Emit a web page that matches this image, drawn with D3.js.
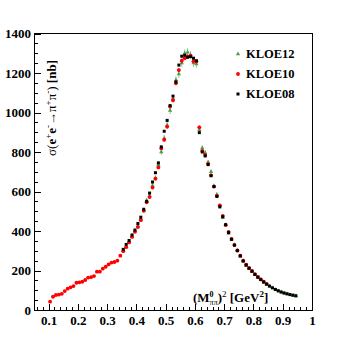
<!DOCTYPE html>
<html>
<head>
<meta charset="utf-8">
<title>KLOE pion cross section</title>
<style>
body {
  margin: 0;
  background: white;
}
svg {
  display: block;
  font-family: "Liberation Serif", "DejaVu Serif", serif;
}
.axis path,
.axis line {
  stroke: black;
  shape-rendering: crispEdges;
}
.axis text {
  font-family: "Liberation Serif", "DejaVu Serif", serif;
  font-size: 13px;
  font-weight: bold;
  fill: black;
}
</style>
<script src="https://cdn.jsdelivr.net/npm/d3@7"></script>
</head>
<body>
<svg width="345" height="345"></svg>
<script>
// bin centres in s = M^2 (GeV^2)
const sKLOE10 = d3.range(75).map(i => +(0.105 + i * 0.01).toFixed(3));
const sKLOE08 = d3.range(60).map(i => +(0.355 + i * 0.01).toFixed(3));
const sKLOE12 = sKLOE08;

// cross sections [nb]
const kloe10 = [42, 67, 76, 78, 82, 96, 108, 115, 121, 138,
  140, 143, 152, 164, 166, 172, 194, 194, 209, 219,
  231, 240, 243, 250, 275, 298, 318, 342, 370, 396,
  420, 455, 502, 545, 572, 620, 665, 722, 818, 862,
  928, 1030, 1062, 1148, 1215, 1262, 1275, 1283, 1288, 1260,
  1258, 925, 805, 785, 740, 682, 625, 578, 530, 476,
  430, 395, 360, 330, 302, 275, 250, 230, 212, 198,
  182, 168, 155, 143, 132];
const kloe10Err = [6, 5, 5, 5, 5, 5, 5, 5, 5, 5,
  5, 5, 5, 5, 5, 5, 5, 5, 5, 5,
  5, 5, 5, 5, 5, 5, 5, 5, 6, 6,
  6, 6, 6, 6, 7, 7, 7, 8, 8, 8,
  8, 9, 9, 9, 10, 10, 10, 10, 10, 10,
  10, 9, 8, 8, 7, 7, 6, 6, 6, 5,
  5, 5, 4, 4, 4, 4, 3, 3, 3, 3,
  3, 3, 3, 3, 3];

const kloe08 = [307, 332, 352, 380, 405, 438, 470, 510, 550, 592,
  648, 695, 745, 826, 905, 960, 1035, 1083, 1155, 1240,
  1285, 1290, 1280, 1283, 1275, 1262, 898, 800, 780, 736,
  680, 625, 575, 522, 472, 432, 392, 358, 328, 300,
  274, 248, 228, 212, 196, 180, 166, 154, 142, 131,
  121, 112, 104, 97, 91, 86, 82, 78, 75, 72];

const kloe12 = [300, 322, 345, 372, 400, 428, 462, 505, 555, 578,
  630, 668, 735, 800, 870, 935, 1010, 1070, 1165, 1195,
  1250, 1300, 1305, 1290, 1250, 1245, 912, 820, 796, 748,
  700, 628, 585, 528, 468, 432, 388, 358, 330, 302,
  272, 248, 224, 210, 195, 180, 166, 153, 141, 130,
  120, 112, 103, 96, 90, 85, 81, 77, 74, 71];
const kloe12Err = [8, 8, 9, 9, 10, 10, 11, 11, 12, 12,
  13, 14, 14, 15, 16, 17, 18, 18, 19, 20,
  20, 20, 20, 20, 19, 19, 15, 13, 13, 12,
  12, 11, 10, 9, 8, 8, 7, 7, 6, 6,
  5, 5, 5, 4, 4, 4, 4, 3, 3, 3,
  3, 3, 3, 2, 2, 2, 2, 2, 2, 2];

const xTicks = [0.1, 0.2, 0.3, 0.4, 0.5, 0.6, 0.7, 0.8, 0.9, 1.0];
const xTickLabels = ['0.1', '0.2', '0.3', '0.4', '0.5', '0.6', '0.7', '0.8', '0.9', '1'];
const yTicks = [0, 200, 400, 600, 800, 1000, 1200, 1400];
const legendNames = ['KLOE12', 'KLOE10', 'KLOE08'];

const svg = d3.select('svg');
const x = d3.scaleLinear().domain([0.05, 1.0]).range([34, 312]);
const y = d3.scaleLinear().domain([0, 1400]).range([310, 33.5]);

// minor ticks
svg.append('g')
  .attr('class', 'axis')
  .attr('transform', `translate(0,${y(0)})`)
  .call(d3.axisBottom(x).tickValues(d3.range(0.06, 1.0, 0.02)).tickSize(-3).tickSizeOuter(0).tickFormat(''))
  .select('.domain').remove();
svg.append('g')
  .attr('class', 'axis')
  .attr('transform', `translate(${x(0.05)},0)`)
  .call(d3.axisLeft(y).tickValues(d3.range(50, 1400, 50)).tickSize(-3.5).tickSizeOuter(0).tickFormat(''))
  .select('.domain').remove();

// major ticks + labels
svg.append('g')
  .attr('class', 'axis')
  .attr('transform', `translate(0,${y(0)})`)
  .call(d3.axisBottom(x).tickValues(xTicks).tickSize(-6).tickSizeOuter(0).tickPadding(6)
    .tickFormat((d, i) => xTickLabels[i]));
svg.append('g')
  .attr('class', 'axis')
  .attr('transform', `translate(${x(0.05)},0)`)
  .call(d3.axisLeft(y).tickValues(yTicks).tickSize(-7).tickSizeOuter(0).tickPadding(3)
    .tickFormat(d3.format('d')));

// frame
svg.append('rect')
  .attr('x', x(0.05)).attr('y', y(1400))
  .attr('width', x(1.0) - x(0.05)).attr('height', y(0) - y(1400))
  .attr('fill', 'none').attr('stroke', 'black').attr('shape-rendering', 'crispEdges');

// KLOE12 - green triangles with error bars
const green = '#4a9d4a';
const g12 = svg.append('g');
sKLOE12.forEach((s, i) => {
  g12.append('line')
    .attr('x1', x(s)).attr('x2', x(s))
    .attr('y1', y(kloe12[i] - kloe12Err[i])).attr('y2', y(kloe12[i] + kloe12Err[i]))
    .attr('stroke', '#8cc88c').attr('stroke-width', 1);
});
g12.selectAll('path.tri')
  .data(sKLOE12)
  .enter().append('path')
  .attr('class', 'tri')
  .attr('d', d3.symbol(d3.symbolTriangle, 8))
  .attr('transform', (d, i) => `translate(${x(d)},${y(kloe12[i])})`)
  .attr('fill', green);

// KLOE10 - red circles
const g10 = svg.append('g');
sKLOE10.forEach((s, i) => {
  g10.append('line')
    .attr('x1', x(s - 0.005)).attr('x2', x(s + 0.005))
    .attr('y1', y(kloe10[i])).attr('y2', y(kloe10[i]))
    .attr('stroke', 'red').attr('stroke-width', 1);
  g10.append('line')
    .attr('x1', x(s)).attr('x2', x(s))
    .attr('y1', y(kloe10[i] - kloe10Err[i])).attr('y2', y(kloe10[i] + kloe10Err[i]))
    .attr('stroke', 'red').attr('stroke-width', 1);
});
g10.selectAll('circle')
  .data(sKLOE10)
  .enter().append('circle')
  .attr('cx', d => x(d))
  .attr('cy', (d, i) => y(kloe10[i]))
  .attr('r', 1.9)
  .attr('fill', 'red');

// KLOE08 - black squares
svg.append('g').selectAll('rect')
  .data(sKLOE08)
  .enter().append('rect')
  .attr('x', d => x(d) - 1.5)
  .attr('y', (d, i) => y(kloe08[i]) - 1.5)
  .attr('width', 3)
  .attr('height', 3)
  .attr('fill', 'black');

// legend
const legend = svg.append('g')
  .selectAll('g')
  .data(legendNames)
  .enter().append('g')
  .attr('transform', (d, i) => `translate(238,${54 + i * 20})`);

legend.filter(d => d === 'KLOE12').append('path')
  .attr('d', d3.symbol(d3.symbolTriangle, 8)).attr('fill', green);
legend.filter(d => d === 'KLOE10').append('circle')
  .attr('r', 1.9).attr('fill', 'red');
legend.filter(d => d === 'KLOE08').append('rect')
  .attr('x', -1.5).attr('y', -1.5).attr('width', 3).attr('height', 3).attr('fill', 'black');

legend.append('text')
  .attr('x', 8)
  .attr('dy', '0.35em')
  .attr('font-size', 12.5)
  .attr('font-weight', 'bold')
  .text(d => d);

// y title
const yt = svg.append('text')
  .attr('transform', 'translate(56,60) rotate(-90)')
  .attr('text-anchor', 'end')
  .attr('font-size', 13);
yt.append('tspan').text('σ(');
yt.append('tspan').attr('font-weight', 'bold').text('e');
yt.append('tspan').attr('font-size', 9).attr('dy', -5).text('+');
yt.append('tspan').attr('font-weight', 'bold').attr('dy', 5).text('e');
yt.append('tspan').attr('font-size', 9).attr('dy', -5).text('-');
yt.append('tspan').attr('dy', 5).text('→π');
yt.append('tspan').attr('font-size', 9).attr('dy', -5).text('+');
yt.append('tspan').attr('dy', 5).text('π');
yt.append('tspan').attr('font-size', 9).attr('dy', -5).text('-');
yt.append('tspan').attr('dy', 5).text(') ');
yt.append('tspan').attr('font-weight', 'bold').text('[nb]');

// x title
const xt = svg.append('text')
  .attr('x', 193)
  .attr('y', 302)
  .attr('font-size', 13)
  .attr('font-weight', 'bold');
xt.append('tspan').text('(M');
xt.append('tspan').attr('font-size', 8).attr('dy', -5).text('0');
xt.append('tspan').attr('font-size', 8).attr('font-weight', 'normal').attr('dx', -4).attr('dy', 8).text('ππ');
xt.append('tspan').attr('dy', -3).text(')');
xt.append('tspan').attr('font-size', 9).attr('font-weight', 'normal').attr('dy', -5).text('2');
xt.append('tspan').attr('dy', 5).text(' [GeV');
xt.append('tspan').attr('font-size', 9).attr('dy', -5).text('2');
xt.append('tspan').attr('dy', 5).text(']');
</script>
</body>
</html>
